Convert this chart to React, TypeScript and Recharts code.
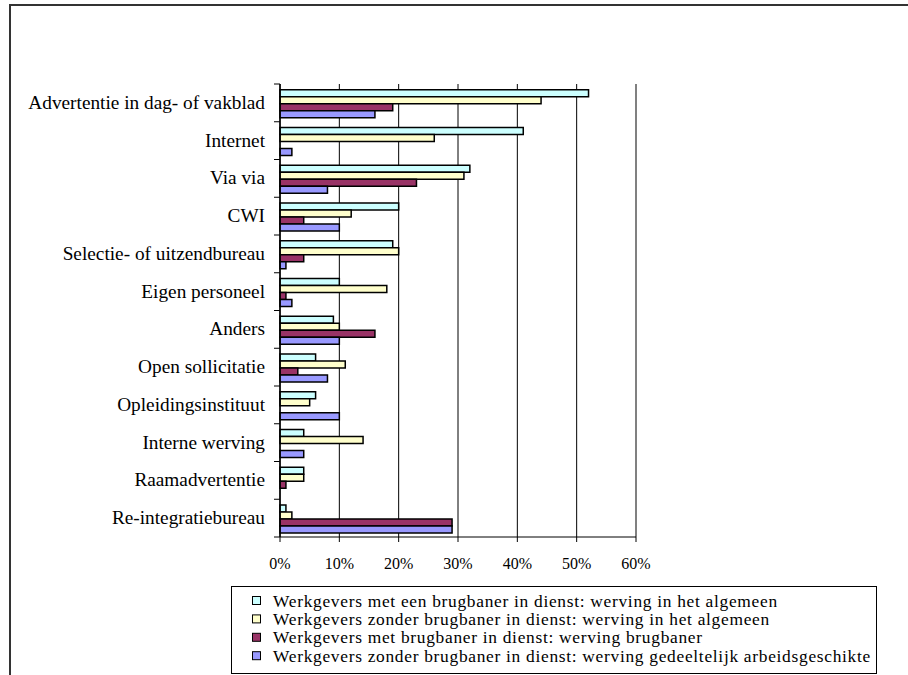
import React from "react";
import { BarChart, Bar, XAxis, YAxis, CartesianGrid, ReferenceLine } from "recharts";

const categories = [
  "Advertentie in dag- of vakblad",
  "Internet",
  "Via via",
  "CWI",
  "Selectie- of uitzendbureau",
  "Eigen personeel",
  "Anders",
  "Open sollicitatie",
  "Opleidingsinstituut",
  "Interne werving",
  "Raamadvertentie",
  "Re-integratiebureau",
];

const metBrugAlgemeen = [52, 41, 32, 20, 19, 10, 9, 6, 6, 4, 4, 1];
const zonderBrugAlgemeen = [44, 26, 31, 12, 20, 18, 10, 11, 5, 14, 4, 2];
const metBrugBrugbaner = [19, 0, 23, 4, 4, 1, 16, 3, 0, 0, 1, 29];
const zonderBrugGedeeltelijk = [16, 2, 8, 10, 1, 2, 10, 8, 10, 4, 0, 29];

const xTicks = [0, 10, 20, 30, 40, 50, 60];

const series = [
  { key: "a", name: "Werkgevers met een brugbaner in dienst: werving in het algemeen", color: "#CCFFFF", values: metBrugAlgemeen },
  { key: "b", name: "Werkgevers zonder brugbaner in dienst: werving in het algemeen", color: "#FFFFCC", values: zonderBrugAlgemeen },
  { key: "c", name: "Werkgevers met brugbaner in dienst: werving brugbaner", color: "#993366", values: metBrugBrugbaner },
  { key: "d", name: "Werkgevers zonder brugbaner in dienst: werving gedeeltelijk arbeidsgeschikte", color: "#9999FF", values: zonderBrugGedeeltelijk },
];

const data = categories.map((cat, i) => {
  const row: any = { cat };
  series.forEach((s) => (row[s.key] = s.values[i]));
  return row;
});

const FONT = "Liberation Serif";
const TICK_SIZE = 6;
const TICK_MARGIN = 9;

// category ticks sit on the band edges, labels in the middle
const YTick = (props: any) => {
  const { x, y, payload, index, visibleTicksCount } = props;
  const axisX = x + TICK_SIZE + TICK_MARGIN;
  const half = payload?.offset || 453 / 24;
  const isLast = index === visibleTicksCount - 1;
  return (
    <g>
      <line x1={axisX - TICK_SIZE} x2={axisX} y1={y - half} y2={y - half} stroke="#000" />
      {isLast && <line x1={axisX - TICK_SIZE} x2={axisX} y1={y + half} y2={y + half} stroke="#000" />}
      <text x={x} y={y} dy={6} textAnchor="end" fontFamily={FONT} fontSize={19.3} fill="#000">
        {payload.value}
      </text>
    </g>
  );
};

const XTick = (props: any) => {
  const { x, y, payload } = props;
  return (
    <text x={x} y={y} dy={25} textAnchor="middle" fontFamily={FONT} fontSize={16} fill="#000">
      {payload.value}%
    </text>
  );
};

export default function App() {
  return (
    <div
      style={{
        position: "absolute",
        left: 0,
        top: 0,
        width: 908,
        height: 675,
        overflow: "hidden",
        background: "#fff",
      }}
    >
      {/* outer frame */}
      <div
        style={{
          position: "absolute",
          left: 9,
          top: 4,
          width: 1000,
          height: 1000,
          borderLeft: "2px solid #333",
          borderTop: "2px solid #333",
        }}
      />

      <div style={{ position: "absolute", left: 0, top: 0 }}>
        <BarChart
          width={908}
          height={675}
          data={data}
          layout="vertical"
          margin={{ top: 84, right: 272, bottom: 108, left: 10 }}
          barCategoryGap="15%"
          barGap={0}
        >
          <CartesianGrid horizontal={false} stroke="#000" strokeWidth={1} />
          <XAxis
            type="number"
            domain={[0, 60]}
            ticks={xTicks}
            interval={0}
            height={30}
            axisLine={{ stroke: "#000" }}
            tickLine={{ stroke: "#000" }}
            tickSize={5}
            tick={<XTick />}
          />
          <XAxis
            xAxisId="top"
            orientation="top"
            type="number"
            domain={[0, 60]}
            height={0}
            tick={false}
            tickLine={false}
            axisLine={{ stroke: "#808080", strokeWidth: 2 }}
          />
          <YAxis
            type="category"
            dataKey="cat"
            width={270}
            interval={0}
            axisLine={{ stroke: "#000", strokeWidth: 1.5 }}
            tickLine={false}
            tickSize={TICK_SIZE}
            tickMargin={TICK_MARGIN}
            tick={<YTick />}
          />
          <ReferenceLine x={60} stroke="#808080" strokeWidth={2} />
          {series.map((s) => (
            <Bar
              key={s.key}
              dataKey={s.key}
              name={s.name}
              fill={s.color}
              stroke="#000"
              strokeWidth={1.5}
              isAnimationActive={false}
            />
          ))}
        </BarChart>
      </div>

      {/* legend */}
      <svg
        width={646}
        height={88}
        style={{ position: "absolute", left: 231, top: 586 }}
      >
        <rect x={0.5} y={0.5} width={645} height={87} fill="#fff" stroke="#000" />
        {series.map((s, i) => {
          const cy = 15 + i * 18.4;
          return (
            <g key={s.key}>
              <rect x={21.5} y={cy - 4.5} width={8} height={8} fill={s.color} stroke="#000" />
              <text
                x={42}
                y={cy + 5.5}
                fontFamily={FONT}
                fontSize={17.4}
                letterSpacing={0.7}
                fill="#000"
              >
                {s.name}
              </text>
            </g>
          );
        })}
      </svg>
    </div>
  );
}
